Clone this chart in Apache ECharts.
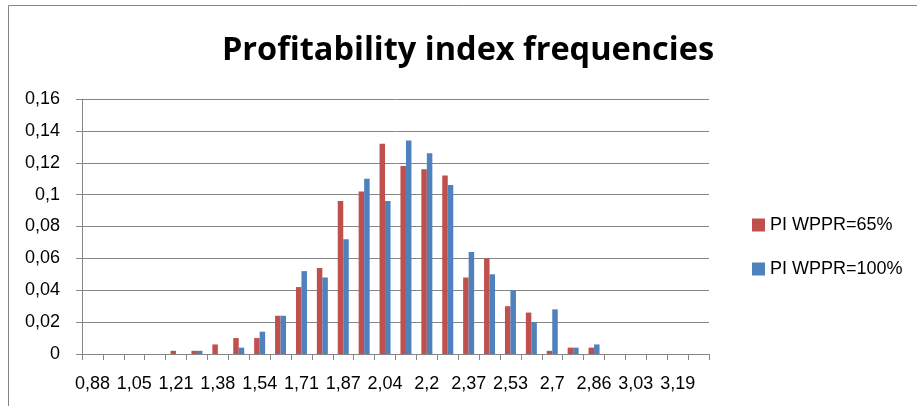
<!DOCTYPE html>
<html>
<head>
<meta charset="utf-8">
<script src="https://cdn.jsdelivr.net/npm/echarts@6/dist/echarts.min.js"></script>
<style>
  html, body { margin: 0; padding: 0; background: #fff; }
  #chart { width: 917px; height: 406px; }
</style>
</head>
<body>
<div id="chart"></div>
<script>
// Profitability index bins (bin start values, comma as decimal separator)
const categories = [
  '0,88', '0,96', '1,05', '1,13', '1,21', '1,29', '1,38', '1,46', '1,54', '1,62',
  '1,71', '1,79', '1,87', '1,95', '2,04', '2,12', '2,2', '2,28', '2,37', '2,45',
  '2,53', '2,61', '2,7', '2,78', '2,86', '2,94', '3,03', '3,11', '3,19', '3,27'
];

// Relative frequencies for WPPR = 65%
const pi65 = [
  0, 0, 0, 0, 0.002, 0.002, 0.006, 0.010, 0.010, 0.024,
  0.042, 0.054, 0.096, 0.102, 0.132, 0.118, 0.116, 0.112, 0.048, 0.060,
  0.030, 0.026, 0.002, 0.004, 0.004, 0, 0, 0, 0, 0
];

// Relative frequencies for WPPR = 100%
const pi100 = [
  0, 0, 0, 0, 0, 0.002, 0, 0.004, 0.014, 0.024,
  0.052, 0.048, 0.072, 0.110, 0.096, 0.134, 0.126, 0.106, 0.064, 0.050,
  0.040, 0.020, 0.028, 0.004, 0.006, 0, 0, 0, 0, 0
];

const seriesNames = ['PI WPPR=65%', 'PI WPPR=100%'];
const titleText = 'Profitability index frequencies';

const FONT = '"Liberation Sans", Arial, sans-serif';
const TITLE_FONT = '"Open Sans", "Liberation Sans", sans-serif';
const GRID = '#868686';

const chart = echarts.init(document.getElementById('chart'), null, { renderer: 'canvas' });

chart.setOption({
  backgroundColor: '#ffffff',
  animation: false,
  title: {
    text: titleText,
    left: 468,
    textAlign: 'center',
    top: 34,
    padding: 0,
    textStyle: { fontFamily: TITLE_FONT, fontWeight: 'bold', fontSize: 32.5, color: '#000' }
  },
  graphic: [{
    type: 'rect',
    silent: true,
    shape: { x: 8.5, y: 5.5, width: 1200, height: 1200 },
    style: { fill: 'none', stroke: GRID, lineWidth: 1 }
  }],
  legend: {
    orient: 'vertical',
    left: 752,
    top: 216,
    itemWidth: 13,
    itemHeight: 13,
    itemGap: 26,
    icon: 'rect',
    padding: 0,
    textStyle: { fontFamily: FONT, fontSize: 18, color: '#000' },
    data: seriesNames
  },
  grid: { left: 82, right: 208, top: 99, bottom: 52, containLabel: false },
  xAxis: {
    type: 'category',
    data: categories,
    boundaryGap: true,
    axisLine: { lineStyle: { color: GRID, width: 1 } },
    axisTick: { show: true, interval: 0, length: 6, inside: false, lineStyle: { color: GRID } },
    axisLabel: { interval: 1, margin: 21, fontFamily: FONT, fontSize: 18, color: '#000', hideOverlap: false }
  },
  yAxis: {
    type: 'value',
    min: 0,
    max: 0.16,
    interval: 0.02,
    axisLine: { show: true, lineStyle: { color: GRID, width: 1 } },
    axisTick: { show: true, length: 6, lineStyle: { color: GRID } },
    splitLine: { show: true, lineStyle: { color: GRID, width: 1 } },
    axisLabel: {
      margin: 22,
      fontFamily: FONT,
      fontSize: 18,
      color: '#000',
      formatter: v => String(parseFloat(v.toFixed(2))).replace('.', ',')
    }
  },
  series: [
    {
      name: seriesNames[0],
      type: 'bar',
      data: pi65,
      barWidth: 5.5,
      barGap: '0%',
      itemStyle: { color: '#C0504D' }
    },
    {
      name: seriesNames[1],
      type: 'bar',
      data: pi100,
      barWidth: 5.5,
      barGap: '0%',
      itemStyle: { color: '#4F81BD' }
    }
  ]
});
</script>
</body>
</html>
